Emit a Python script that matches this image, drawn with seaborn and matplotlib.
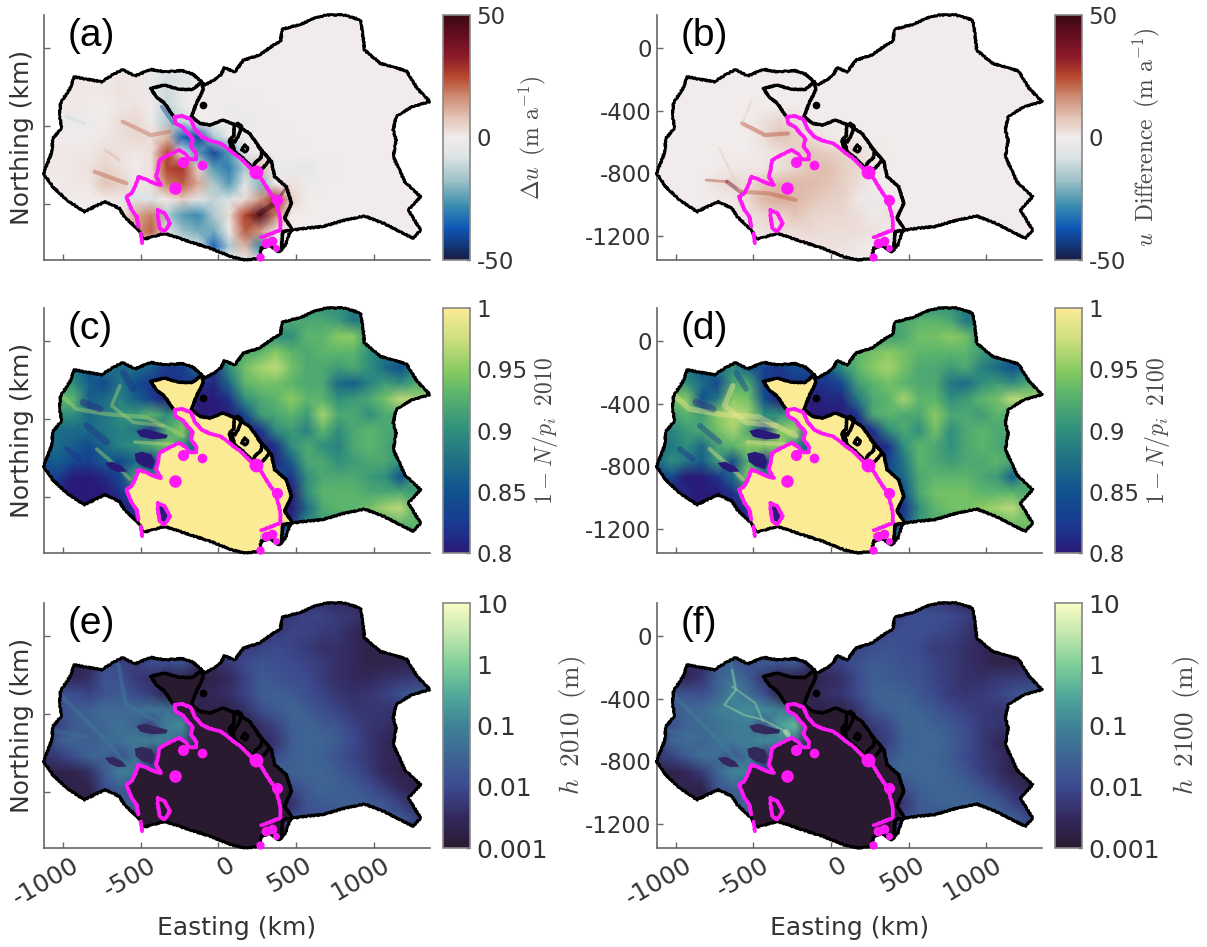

import numpy as np
import pandas as pd
import matplotlib
matplotlib.use("Agg")
import matplotlib.pyplot as plt
from matplotlib.colors import LinearSegmentedColormap, LogNorm, Normalize
from matplotlib.patches import Polygon
from matplotlib.transforms import ScaledTranslation
import seaborn as sns

sns.set_style("ticks")
plt.rcParams["font.family"] = ["DejaVu Sans"]
plt.rcParams["mathtext.fontset"] = "cm"

# grid nodes (km)
easting = [-1130, -1030, -930, -830, -730, -630, -530, -430, -330, -230, -130, -30, 70,
           170, 270, 370, 470, 570, 670, 770, 870, 970, 1070, 1170, 1270, 1370]
northing = [230, 130, 30, -70, -170, -270, -370, -470, -570, -670, -770, -870, -970,
            -1070, -1170, -1270, -1370]

# velocity change, panel a (m/a)
du_a = [
 [0]*26, [0]*26, [0]*26, [0]*26,
 [0,0,0,0,0,1,1,-3,-8,-8,-3,0,0,0,0,0,0,0,0,0,0,0,0,0,0,0],
 [0,0,1,1,1,2,1,-3,-10,-3,0,-1,0,0,0,0,0,0,0,0,0,0,0,0,0,0],
 [0,0,1,0,0,1,2,0,-12,-3,0,0,-2,-1,0,0,0,0,0,0,0,0,0,0,0,0],
 [0,0,-2,-2,0,3,4,-1,-15,-12,0,0,0,-3,-1,0,0,0,0,0,0,0,0,0,0,0],
 [0,0,-1,0,1,2,4,3,10,-35,-40,-15,-2,0,-1,-1,0,0,0,0,0,0,0,0,0,0],
 [0,1,1,1,3,2,1,2,25,-5,-25,-40,-25,-5,0,-1,-1,0,0,0,0,0,0,0,0,0],
 [0,1,1,2,5,2,0,2,25,28,5,-25,-30,-15,10,-2,-3,-4,-1,0,0,0,0,0,0,0],
 [0,0,1,1,8,6,-2,3,18,22,12,-15,-25,-5,-20,0,2,-2,0,0,0,0,0,0,0,0],
 [0,0,0,0,0,1,-8,-8,0,6,-5,-12,-8,3,15,30,5,0,0,0,0,0,0,0,0,0],
 [0,0,0,0,0,0,12,18,-15,-25,-28,-15,3,25,45,18,0,0,0,0,0,0,0,0,0,0],
 [0,0,0,0,0,0,15,22,-5,-18,-22,-22,0,22,15,-3,0,0,0,0,0,0,0,0,0,0],
 [0,0,0,0,0,0,5,5,0,-5,-8,-35,-15,10,-28,0,0,0,0,0,0,0,0,0,0,0],
 [0]*26,
]

# velocity difference, panel b (m/a)
du_b = [
 [0]*26, [0]*26, [0]*26, [0]*26, [0]*26, [0]*26, [0]*26,
 [0,0,0,0,0,0,0,2,5,3,0,0,0,0,0,0,0,0,0,0,0,0,0,0,0,0],
 [0,0,0,0,0,0,0,3,8,6,3,1,0,0,0,0,0,0,0,0,0,0,0,0,0,0],
 [0,0,0,0,0,0,0,1,2,5,8,6,5,3,1,0,0,0,0,0,0,0,0,0,0,0],
 [0,0,0,0,0,1,1,1,2,5,8,9,6,4,1,0,0,0,0,0,0,0,0,0,0,0],
 [0,0,0,0,2,4,3,8,10,10,9,8,6,3,0,0,0,0,0,0,0,0,0,0,0,0],
 [0,0,0,0,0,1,4,10,12,10,8,6,5,1,-3,1,0,0,0,0,0,0,0,0,0,0],
 [0,0,0,0,0,0,2,4,4,8,5,4,4,3,-1,2,0,0,0,0,0,0,0,0,0,0],
 [0,0,0,0,0,0,1,2,3,3,4,3,3,3,2,0,0,0,0,0,0,0,0,0,0,0],
 [0,0,0,0,0,0,0,0,1,1,1,2,2,1,0,0,0,0,0,0,0,0,0,0,0,0],
 [0]*26,
]

# 1 - N/p_i in 2010, panel c
np_2010 = [
 [.9,.9,.9,.9,.9,.9,.9,.9,.9,.9,.9,.9,.9,.9,.9,.9,.9,.9,.9,.9,.88,.88,.88,.88,.88,.88],
 [.9,.9,.9,.9,.9,.9,.9,.9,.9,.9,.9,.9,.9,.9,.9,.92,.92,.92,.92,.91,.88,.9,.9,.9,.9,.9],
 [.9,.9,.9,.9,.9,.9,.9,.9,.9,.9,.9,.9,.9,.9,.9,.9,.9,.93,.93,.95,.95,.9,.9,.9,.9,.9],
 [.9,.9,.9,.9,.9,.9,.9,.9,.9,.9,.9,.9,.9,.92,.93,.95,.93,.92,.93,.93,.93,.9,.88,.88,.88,.88],
 [.88,.88,.88,.85,.88,.87,.87,.86,.82,.83,.87,.82,.9,.94,.96,.97,.94,.92,.92,.91,.92,.9,.87,.85,.88,.88],
 [.92,.92,.9,.86,.84,.88,.85,.82,.82,.82,.82,.81,.87,.93,.94,.94,.93,.92,.92,.87,.86,.89,.91,.9,.92,.92],
 [.93,.93,.93,.86,.87,.89,.86,.83,.8,.8,.8,.8,.82,.9,.92,.93,.95,.93,.93,.9,.91,.92,.94,.97,.96,.97],
 [.9,.9,.9,.87,.88,.9,.91,.93,.9,.92,.8,.8,.8,.84,.91,.92,.93,.91,.96,.92,.92,.9,.92,.92,.92,.92],
 [.87,.87,.87,.87,.88,.89,.88,.82,.92,.95,.82,.8,.8,.8,.82,.9,.91,.89,.93,.9,.92,.93,.92,.92,.9,.9],
 [.87,.87,.86,.84,.87,.89,.9,.92,.94,.9,.85,.8,.8,.8,.8,.82,.9,.92,.9,.89,.92,.93,.92,.9,.9,.9],
 [.85,.86,.84,.83,.86,.84,.87,.82,.9,.9,.85,.8,.8,.8,.8,.81,.86,.92,.92,.9,.91,.92,.92,.9,.9,.9],
 [.83,.83,.8,.8,.81,.84,.92,.9,.9,.85,.85,.85,.85,.85,.85,.85,.82,.9,.92,.92,.92,.91,.9,.85,.92,.9],
 [.8,.8,.8,.8,.8,.82,.85,.9,.9,.9,.9,.9,.9,.9,.9,.8,.8,.9,.93,.93,.93,.92,.92,.92,.91,.9],
 [.8,.8,.8,.8,.8,.8,.82,.9,.9,.9,.9,.9,.9,.9,.9,.8,.8,.87,.92,.93,.93,.94,.96,.97,.92,.92],
 [.8,.8,.8,.8,.8,.8,.82,.9,.9,.9,.9,.9,.9,.9,.9,.82,.82,.9,.91,.91,.91,.92,.92,.93,.93,.93],
 [.9,.9,.9,.9,.9,.9,.9,.9,.9,.9,.9,.9,.9,.9,.9,.9,.9,.9,.9,.9,.9,.92,.92,.92,.92,.92],
 [.9,.9,.9,.9,.9,.9,.9,.9,.9,.9,.9,.9,.9,.9,.9,.9,.9,.9,.9,.9,.9,.9,.9,.9,.9,.9],
]

# 1 - N/p_i in 2100, panel d
np_2100 = [
 [.9,.9,.9,.9,.9,.9,.9,.9,.9,.9,.9,.9,.9,.9,.9,.9,.9,.9,.9,.9,.88,.88,.88,.88,.88,.88],
 [.9,.9,.9,.9,.9,.9,.9,.9,.9,.9,.9,.9,.9,.9,.9,.92,.92,.93,.93,.92,.88,.9,.9,.9,.9,.9],
 [.9,.9,.9,.9,.9,.9,.9,.9,.9,.9,.9,.9,.9,.9,.9,.91,.92,.94,.94,.95,.94,.9,.9,.9,.9,.9],
 [.9,.9,.9,.9,.9,.9,.9,.9,.9,.9,.9,.9,.9,.93,.94,.95,.94,.93,.93,.93,.93,.91,.89,.88,.88,.88],
 [.88,.88,.88,.85,.88,.9,.86,.83,.82,.85,.84,.84,.9,.93,.95,.96,.94,.92,.92,.91,.92,.89,.87,.85,.88,.88],
 [.92,.92,.9,.87,.84,.92,.92,.83,.82,.82,.82,.82,.84,.91,.93,.94,.93,.92,.92,.88,.87,.9,.91,.9,.92,.92],
 [.94,.94,.95,.85,.88,.95,.94,.85,.8,.8,.8,.81,.81,.88,.92,.93,.96,.93,.93,.9,.91,.93,.94,.97,.96,.97],
 [.91,.91,.93,.91,.95,.97,.96,.9,.9,.92,.8,.8,.8,.82,.92,.93,.92,.92,.95,.92,.92,.91,.93,.92,.92,.92],
 [.89,.89,.91,.92,.94,.96,.92,.82,.95,.96,.82,.8,.8,.8,.82,.9,.92,.9,.94,.9,.92,.93,.92,.92,.9,.9],
 [.88,.88,.9,.87,.92,.93,.95,.95,.95,.9,.85,.8,.8,.8,.8,.82,.9,.93,.92,.9,.92,.93,.92,.91,.9,.9],
 [.86,.9,.88,.86,.91,.84,.93,.82,.9,.9,.85,.8,.8,.8,.8,.83,.88,.93,.92,.91,.92,.92,.93,.92,.9,.9],
 [.84,.84,.8,.8,.82,.87,.95,.9,.9,.85,.85,.85,.85,.85,.85,.85,.87,.92,.93,.93,.93,.92,.91,.86,.93,.9],
 [.8,.8,.81,.8,.8,.82,.87,.9,.9,.9,.9,.9,.9,.9,.9,.82,.85,.92,.94,.94,.94,.93,.93,.93,.92,.9],
 [.8,.8,.8,.8,.8,.8,.82,.9,.9,.9,.9,.9,.9,.9,.9,.82,.82,.9,.93,.94,.94,.95,.96,.97,.93,.92],
 [.8,.8,.8,.8,.8,.8,.82,.9,.9,.9,.9,.9,.9,.9,.9,.84,.84,.91,.92,.92,.92,.93,.93,.94,.94,.93],
 [.9,.9,.9,.9,.9,.9,.9,.9,.9,.9,.9,.9,.9,.9,.9,.9,.9,.9,.9,.9,.9,.92,.92,.92,.92,.92],
 [.9,.9,.9,.9,.9,.9,.9,.9,.9,.9,.9,.9,.9,.9,.9,.9,.9,.9,.9,.9,.9,.9,.9,.9,.9,.9],
]

# h in 2010, panel e (m)
h_2010 = [
 [.003,.003,.003,.003,.003,.003,.003,.003,.003,.003,.003,.003,.003,.003,.003,.003,.004,.004,.004,.003,.003,.002,.002,.002,.002,.002],
 [.003,.003,.003,.003,.003,.003,.003,.003,.003,.003,.003,.003,.003,.003,.003,.004,.006,.008,.008,.006,.005,.003,.002,.002,.002,.002],
 [.003,.003,.003,.003,.003,.003,.003,.003,.003,.003,.003,.003,.003,.003,.004,.006,.008,.008,.006,.005,.003,.002,.002,.002,.002,.002],
 [.003,.003,.003,.003,.003,.003,.003,.003,.003,.003,.003,.003,.004,.006,.008,.01,.008,.006,.004,.004,.003,.002,.002,.002,.002,.002],
 [.002,.002,.002,.003,.012,.008,.006,.012,.01,.015,.003,.004,.006,.01,.015,.012,.01,.008,.006,.004,.003,.002,.002,.002,.002,.002],
 [.002,.002,.003,.004,.015,.012,.006,.004,.002,.002,.002,.002,.003,.008,.02,.015,.012,.01,.006,.004,.003,.003,.004,.005,.006,.006],
 [.012,.012,.012,.008,.015,.02,.01,.006,.002,.002,.002,.003,.004,.008,.02,.025,.02,.012,.008,.005,.004,.005,.007,.012,.02,.02],
 [.006,.012,.02,.025,.04,.035,.04,.06,.05,.02,.002,.002,.002,.004,.012,.02,.03,.02,.012,.008,.005,.005,.005,.004,.003,.003],
 [.003,.008,.02,.025,.035,.05,.03,.008,.09,.12,.002,.002,.002,.002,.004,.008,.025,.03,.02,.015,.008,.005,.004,.003,.003,.003],
 [.004,.02,.03,.02,.035,.05,.07,.09,.08,.03,.002,.002,.002,.002,.003,.005,.02,.03,.03,.02,.01,.005,.003,.002,.002,.002],
 [.004,.006,.012,.03,.03,.012,.05,.004,.01,.002,.002,.002,.002,.002,.002,.01,.025,.03,.025,.015,.008,.005,.003,.002,.002,.002],
 [.002,.002,.002,.004,.02,.09,.07,.01,.002,.002,.002,.002,.002,.002,.002,.03,.025,.03,.03,.02,.012,.006,.003,.002,.002,.002],
 [.002,.002,.002,.002,.012,.025,.008,.002,.002,.002,.002,.002,.002,.002,.002,.005,.01,.02,.03,.025,.02,.012,.006,.003,.002,.002],
 [.002,.002,.002,.002,.002,.015,.03,.002,.002,.002,.002,.002,.002,.002,.002,.002,.004,.015,.02,.025,.025,.02,.015,.007,.003,.003],
 [.002,.002,.002,.002,.002,.008,.008,.002,.002,.002,.002,.002,.002,.002,.002,.002,.01,.012,.012,.012,.015,.02,.02,.02,.008,.006],
 [.002,.002,.002,.002,.002,.002,.002,.002,.002,.002,.002,.002,.002,.002,.002,.002,.002,.002,.002,.002,.002,.002,.003,.003,.003,.003],
 [.002,.002,.002,.002,.002,.002,.002,.002,.002,.002,.002,.002,.002,.002,.002,.002,.002,.002,.002,.002,.002,.002,.002,.002,.002,.002],
]

# h in 2100, panel f (m)
h_2100 = [
 [.004,.004,.004,.004,.004,.004,.004,.004,.004,.004,.004,.004,.004,.004,.004,.004,.006,.006,.006,.004,.003,.002,.002,.002,.002,.002],
 [.004,.004,.004,.004,.004,.004,.004,.004,.004,.004,.004,.004,.004,.004,.004,.006,.01,.012,.012,.01,.007,.004,.002,.002,.002,.002],
 [.004,.004,.004,.004,.004,.004,.004,.004,.004,.004,.004,.004,.004,.004,.006,.01,.012,.012,.01,.008,.005,.003,.002,.002,.002,.002],
 [.004,.004,.004,.004,.004,.004,.004,.004,.004,.004,.004,.004,.005,.008,.012,.015,.012,.01,.006,.006,.004,.003,.002,.002,.002,.002],
 [.002,.002,.003,.004,.02,.02,.012,.02,.015,.02,.004,.006,.008,.014,.02,.018,.014,.012,.008,.006,.004,.003,.002,.002,.002,.002],
 [.002,.002,.003,.005,.025,.06,.02,.005,.002,.002,.002,.003,.004,.01,.025,.02,.016,.014,.008,.006,.004,.004,.005,.006,.006,.006],
 [.015,.015,.015,.012,.03,.1,.04,.012,.002,.002,.002,.004,.005,.01,.025,.03,.025,.016,.01,.006,.005,.006,.008,.014,.02,.02],
 [.008,.02,.03,.04,.08,.1,.15,.12,.08,.03,.002,.002,.002,.005,.016,.025,.035,.025,.016,.01,.007,.006,.005,.005,.003,.003],
 [.004,.012,.03,.04,.05,.07,.07,.015,.25,.5,.002,.002,.002,.003,.006,.01,.03,.035,.025,.018,.01,.006,.005,.004,.003,.003],
 [.005,.03,.04,.03,.05,.07,.09,.12,.1,.04,.002,.002,.002,.002,.004,.008,.025,.035,.035,.025,.012,.006,.003,.003,.002,.002],
 [.005,.008,.02,.05,.04,.015,.06,.005,.012,.002,.002,.002,.002,.002,.003,.014,.03,.035,.03,.02,.01,.006,.004,.002,.002,.002],
 [.002,.002,.003,.006,.03,.11,.09,.012,.002,.002,.002,.002,.002,.002,.003,.04,.03,.035,.035,.025,.015,.007,.004,.002,.002,.002],
 [.002,.002,.002,.002,.015,.03,.01,.002,.002,.002,.002,.002,.002,.002,.002,.006,.012,.025,.035,.03,.025,.015,.007,.004,.002,.002],
 [.002,.002,.002,.002,.002,.02,.04,.002,.002,.002,.002,.002,.002,.002,.002,.002,.005,.02,.025,.03,.03,.025,.02,.008,.004,.003],
 [.002,.002,.002,.002,.002,.012,.012,.002,.002,.002,.002,.002,.002,.002,.002,.002,.012,.015,.015,.015,.018,.025,.025,.025,.01,.006],
 [.002,.002,.002,.002,.002,.002,.002,.002,.002,.002,.002,.002,.002,.002,.002,.002,.002,.002,.002,.002,.002,.002,.003,.003,.003,.003],
 [.002,.002,.002,.002,.002,.002,.002,.002,.002,.002,.002,.002,.002,.002,.002,.002,.002,.002,.002,.002,.002,.002,.002,.002,.002,.002],
]

# outlines (km)
basin = [(-1124,-801),(-1070,-662),(-1065,-577),(-1009,-513),(-1020,-427),(-1016,-353),(-953,-256),
         (-926,-182),(-840,-199),(-750,-214),(-682,-171),(-615,-135),(-536,-177),(-435,-135),(-345,-150),
         (-232,-143),(-164,-165),(-108,-214),(-86,-235),(-29,-203),(16,-171),(38,-124),(106,-150),(162,-75),
         (263,-43),(354,21),(399,43),(410,122),(534,156),(613,192),(691,214),(804,214),(912,182),(928,96),
         (939,-11),(1040,-96),(1209,-145),(1277,-256),(1360,-342),(1243,-374),(1142,-438),(1124,-524),
         (1142,-588),(1124,-695),(1164,-780),(1198,-855),(1299,-951),(1221,-1036),(1299,-1165),(1254,-1218),
         (1164,-1175),(1063,-1122),(939,-1075),(815,-1100),(669,-1143),(556,-1154),(477,-1165),(455,-1186),
         (432,-1261),(387,-1304),(331,-1261),(275,-1282),(263,-1346),(173,-1357),(83,-1336),(-52,-1282),
         (-187,-1239),(-345,-1186),(-480,-1224),(-513,-1165),(-604,-1079),(-637,-1026),(-727,-983),
         (-863,-1047),(-975,-972),(-1065,-887)]
wedge_edge = [(-288,-438),(-345,-353),(-401,-310),(-435,-256),(-345,-235),(-254,-263),(-164,-263),(-108,-214)]
coast_east = [(-98,-267),(-141,-352),(-173,-438),(-119,-480),(-55,-492),(28,-460),(116,-492),(201,-545),
              (267,-640),(341,-727),(362,-823),(437,-887),(469,-993),(426,-1088),(477,-1165),(413,-1175),
              (405,-1293),(387,-1304),(331,-1261),(275,-1282)]
inlet_a = [(126,-481),(151,-500),(130,-560),(105,-600),(84,-588),(105,-663),(157,-703),(215,-760)]
inlet_b = [(126,-481),(100,-500),(100,-560),(70,-590),(84,-640)]
inlet_c = [(169,-620),(190,-640),(175,-665),(150,-650),(169,-620)]
inlet_d = [(255,-625),(280,-660),(275,-700),(235,-735),(225,-760)]
inlet_e = [(330,-716),(286,-767),(253,-794)]
gl_main = [(-281,-438),(-232,-434),(-176,-455),(-153,-513),(-108,-566),(-52,-592),(16,-609),(83,-662),
           (151,-712),(218,-780),(275,-833),(320,-908),(365,-972),(381,-1026),(399,-1100),(399,-1165),
           (342,-1186),(275,-1212)]
gl_west = [(-281,-438),(-277,-481),(-232,-502),(-198,-545),(-164,-577),(-176,-630),(-142,-673),(-142,-712),
           (-187,-712),(-209,-677),(-254,-652),(-300,-673),(-378,-716),(-390,-780),(-401,-823),(-367,-876),
           (-412,-865),(-457,-844),(-513,-823),(-536,-887),(-558,-930),(-592,-951),(-558,-1036),(-525,-1079),
           (-513,-1143)]
gl_stub = [(-498,-1186),(-491,-1250)]
gl_loop = [(-390,-1036),(-345,-1058),(-311,-1122),(-345,-1175),(-378,-1154),(-390,-1079),(-390,-1036)]
gl_blobs = [(-227,-731,7),(-108,-748,6),(-281,-893,8),(241,-791,9),(304,-1250,6),(342,-1233,6),(372,-1282,4),
            (268,-1340,5),(376,-972,7)]
shelf_south = [(263,-1346),(173,-1357),(83,-1336),(-52,-1282),(-187,-1239),(-345,-1186),(-480,-1224),(-498,-1186)]
lake_a = [(-527,-575),(-470,-560),(-400,-580),(-325,-600),(-335,-622),(-420,-628),(-500,-612)]
lake_b = [(-539,-720),(-490,-708),(-430,-725),(-410,-770),(-425,-820),(-490,-800),(-530,-770)]
lake_c = [(-730,-780),(-680,-772),(-620,-800),(-590,-835),(-650,-838),(-700,-815)]

# ridges narrower than the grid: (value, width, points)
ridge_1 = [(-1007,-349),(-911,-434),(-718,-466),(-461,-487),(-226,-605)]
ridge_2 = [(-633,-285),(-686,-413),(-547,-519),(-355,-541)]
ridge_3 = [(-782,-690),(-633,-819),(-569,-883)]
ridge_4 = [(-536,-646),(-292,-659)]
trough_1 = [(-870,-390),(-760,-434)]
trough_2 = [(-845,-541),(-718,-646)]
trough_3 = [(-975,-690),(-890,-755)]
trough_4 = [(-612,-200),(-547,-305)]
melt_1 = [(-645,-175),(-596,-432),(-300,-603)]
melt_2 = [(-1002,-389),(-744,-646),(-571,-838)]
melt_3 = [(-1064,-603),(-842,-646)]
melt_4 = [(-637,-214),(-612,-342),(-687,-438),(-562,-503),(-438,-535),(-313,-599),(-276,-631)]
melt_5 = [(-637,-321),(-488,-428),(-438,-545)]

streaks_a = [(20,3,[(-615,-470),(-435,-556),(-311,-534)]),(22,3,[(-795,-791),(-592,-865)]),
             (-10,3,[(-975,-438),(-863,-481)]),(-40,3,[(-363,-374),(-288,-481)]),
             (10,2,[(-727,-652),(-637,-716)]),(50,4,[(263,-1058),(365,-994)]),(50,2,[(365,-994),(432,-898)])]
streaks_b = [(24,3,[(-571,-481),(-424,-556),(-277,-545)]),(7,1.5,[(-510,-330),(-571,-481)]),
             (24,2,[(-804,-844),(-669,-855)]),(40,3,[(-669,-855),(-583,-919)]),(22,3,[(-583,-919),(-399,-930),(-228,-972)]),
             (7,1.5,[(-720,-640),(-583,-919)])]
streaks_c = [(.96,3,ridge_1),(.96,2.5,ridge_2),(.96,2.5,ridge_3),(.97,2.5,ridge_4),
             (.81,5,trough_1),(.82,5,trough_2),(.82,4,trough_3),(.82,5,trough_4)]
streaks_d = [(.99,4,ridge_1),(.99,4,ridge_2),(.98,3,ridge_3),(.99,3,ridge_4),
             (.81,5,trough_1),(.83,4,trough_2),(.82,4,trough_3),(.83,4,trough_4)]
streaks_e = [(.08,3,melt_1),(.07,3,melt_2),(.05,3,melt_3)]
streaks_f = [(.1,3,melt_1),(.09,3,melt_2),(.06,3,melt_3),(2,1.5,melt_4),(1.5,1.5,melt_5),(6,4,[(-290,-610),(-276,-631)])]

# colormaps
balance_colors = [(0,"#181c43"),(.13,"#0e58b8"),(.22,"#3a8cae"),(.32,"#9bc0c6"),(.42,"#dce3e4"),(.5,"#f1ecec"),
                  (.58,"#e3c4b6"),(.67,"#cc8a70"),(.75,"#b5472c"),(.83,"#8d1a2a"),(.93,"#5e0c1e"),(1,"#3c0912")]
haline_colors = [(0,"#2a1a78"),(.12,"#1a3a90"),(.25,"#10528f"),(.5,"#2f8e7d"),(.65,"#5cb56c"),(.75,"#8acb62"),
                 (.88,"#d0df80"),(1,"#fbeb95")]
deep_colors = [(0,"#2a1a30"),(.12,"#33285c"),(.25,"#3c4a8f"),(.5,"#3f8296"),(.62,"#4fa89a"),(.75,"#7fcf98"),
               (.88,"#c5e8ae"),(1,"#f8fbc4")]
balance = LinearSegmentedColormap.from_list("balance", balance_colors)
haline = LinearSegmentedColormap.from_list("haline", haline_colors)
deep = LinearSegmentedColormap.from_list("deep", deep_colors)

# panel layout in pixels: left, right, top, bottom
W, H = 1207, 947
LEFT_X = (43.5, 430)
RIGHT_X = (656.5, 1042)
ROWS = [(15, 260), (308, 553), (603, 848)]
XLIM = (-1124, 1360)
YLIM = (-1357, 214)
X0, DX = easting[0], 100
Y0, DY = northing[0], 100


def ix(x):
    return (np.asarray(x, dtype=float) - X0) / DX


def iy(y):
    return (Y0 - np.asarray(y, dtype=float)) / DY


def draw_line(ax, pts, rough=None, **kw):
    p = np.array(pts)
    arts = ax.plot(ix(p[:, 0]), iy(p[:, 1]), **kw)
    if rough:
        arts[0].set_sketch_params(scale=rough, length=3, randomness=2)
    return arts


fig = plt.figure(figsize=(W / 100, H / 100), dpi=100)

panels = [
    ("(a)", du_a, balance, Normalize(-50, 50), [-50, 0, 50], ["-50", "0", "50"], 0, 0,
     r"$\Delta u\;\;(\mathrm{m\ a}^{-1})$", 532, 17, 16.5, streaks_a, None, None),
    ("(b)", du_b, balance, Normalize(-50, 50), [-50, 0, 50], ["-50", "0", "50"], 0, 1,
     r"$u\;\;\mathrm{Difference}\;\;(\mathrm{m\ a}^{-1})$", 1146, 17, 16.5, streaks_b, None, None),
    ("(c)", np_2010, haline, Normalize(.8, 1), [.8, .85, .9, .95, 1], ["0.8", "0.85", "0.9", "0.95", "1"], 1, 0,
     r"$1-N/p_i\;\;2010$", 545, 17, 16.5, streaks_c, 1.0, .8),
    ("(d)", np_2100, haline, Normalize(.8, 1), [.8, .85, .9, .95, 1], ["0.8", "0.85", "0.9", "0.95", "1"], 1, 1,
     r"$1-N/p_i\;\;2100$", 1157, 17, 16.5, streaks_d, 1.0, .8),
    ("(e)", h_2010, deep, LogNorm(.001, 10), [.001, .01, .1, 1, 10], ["0.001", "0.01", "0.1", "1", "10"], 2, 0,
     r"$h\;\;2010\;\;(\mathrm{m})$", 573, 19.5, 18, streaks_e, .001, .003),
    ("(f)", h_2100, deep, LogNorm(.001, 10), [.001, .01, .1, 1, 10], ["0.001", "0.01", "0.1", "1", "10"], 2, 1,
     r"$h\;\;2100\;\;(\mathrm{m})$", 1187, 19.5, 18, streaks_f, .001, .003),
]

for tag, grid, cmap, norm, cticks, clabels, r, c, clabel, clabel_x, clabel_size, ctick_size, streaks, shelf_val, lake_val in panels:
    xa, xb = RIGHT_X if c else LEFT_X
    top, bottom = ROWS[r]
    ax = fig.add_axes([xa / W, 1 - bottom / H, (xb - xa) / W, (bottom - top) / H])
    cax = fig.add_axes([(xb + 13) / W, 1 - bottom / H, 26.5 / W, (bottom - top) / H])

    frame = pd.DataFrame(grid, index=northing, columns=easting).astype(float)
    sns.heatmap(frame, ax=ax, cbar_ax=cax, cmap=cmap, norm=norm, shading="gouraud",
                xticklabels=False, yticklabels=False, cbar_kws={"ticks": cticks})
    mesh = ax.collections[0]

    # everything stays inside the basin outline
    clip = Polygon(np.column_stack([ix([p[0] for p in basin]), iy([p[1] for p in basin])]),
                   closed=True, transform=ax.transData)
    mesh.set_clip_path(clip)

    for val, width, pts in streaks:
        for art in draw_line(ax, pts, color=cmap(norm(val)), lw=width, alpha=.45,
                             solid_capstyle="round", zorder=2.5):
            art.set_clip_path(clip)

    # floating ice and lakes have sharp edges, so they are filled on top of the grid
    if shelf_val is not None:
        main = gl_main + shelf_south + gl_west[::-1]
        upper = wedge_edge + coast_east + gl_main[::-1]
        shelf_color = cmap(norm(shelf_val))
        for poly in (main, upper):
            p = np.array(poly)
            for art in ax.fill(ix(p[:, 0]), iy(p[:, 1]), color=shelf_color, lw=0, zorder=3):
                art.set_clip_path(clip)
        for poly in (lake_a, lake_b, lake_c, gl_loop):
            p = np.array(poly)
            col = cmap(norm(lake_val))
            if poly is gl_loop and lake_val < .5:
                col = cmap(norm(.001))
            for art in ax.fill(ix(p[:, 0]), iy(p[:, 1]), color=col, lw=0, zorder=3):
                art.set_clip_path(clip)

    # basin, coast and grounding lines
    draw_line(ax, basin + basin[:1], rough=.7, color="black", lw=2.0, zorder=5, clip_on=False)
    for line in (wedge_edge, coast_east, inlet_a, inlet_b, inlet_c, inlet_d, inlet_e):
        draw_line(ax, line, rough=.4, color="black", lw=2.4, zorder=5)
    draw_line(ax, [(-108, -214), (-98, -267)], rough=.4, color="black", lw=2.4, zorder=5)
    ax.plot(ix(-97), iy(-360), "o", color="black", ms=4.5, zorder=5)
    for line in (gl_main, gl_west, gl_stub, gl_loop):
        draw_line(ax, line, rough=.4, color="#ff19f5", lw=2.6, zorder=6, solid_capstyle="round")
    for bx, by, size in gl_blobs:
        ax.plot(ix(bx), iy(by), "o", color="#ff19f5", ms=size, zorder=6, clip_on=False)

    ax.set_xlim(ix(XLIM[0]), ix(XLIM[1]))
    ax.set_ylim(iy(YLIM[0]), iy(YLIM[1]))

    # axes style: only left and bottom lines, short inward ticks
    for side in ("left", "bottom"):
        ax.spines[side].set_visible(True)
        ax.spines[side].set_color("#666666")
        ax.spines[side].set_linewidth(1.2)
    ax.set_xticks(ix([-1000, -500, 0, 500, 1000]))
    ax.set_yticks(iy([-1200, -800, -400, 0]) if c else iy([-1000, -500, 0]))
    ax.tick_params(direction="in", length=4, width=1, color="#666666", labelsize=16.5, labelcolor="#333333",
                   left=True, bottom=True)
    ax.set_xticklabels([])
    ax.set_yticklabels(["-1200", "-800", "-400", "0"] if c else [], rotation=0)

    if r == 2:
        ax.set_xticklabels(["-1000", "-500", "0", "500", "1000"], rotation=30, ha="right",
                           rotation_mode="anchor", fontsize=18)
        for lab in ax.get_xticklabels():
            lab.set_transform(lab.get_transform() + ScaledTranslation(.08, 0, fig.dpi_scale_trans))
        fig.text((xa + xb) / 2 / W, 1 - 928 / H, "Easting (km)", ha="center", va="center",
                 fontsize=18, color="#333333")
    if c == 0:
        fig.text(22 / W, 1 - (top + bottom) / 2 / H, "Northing (km)", rotation=90, ha="center",
                 va="center", fontsize=18, color="#333333")

    fig.text((xa + 24.5) / W, 1 - (top + 21) / H, tag, ha="left", va="center", fontsize=28,
             family="Liberation Sans", color="black", zorder=10)

    # colorbar
    cb = mesh.colorbar
    cb.outline.set_linewidth(1.2)
    cb.outline.set_edgecolor("#888888")
    cb.set_ticks(cticks)
    cb.set_ticklabels(clabels)
    cb.ax.minorticks_off()
    cb.ax.tick_params(direction="in", length=3, width=1, color="#555555", labelsize=ctick_size,
                      labelcolor="#333333", pad=5)
    fig.text(clabel_x / W, 1 - (top + bottom) / 2 / H, clabel, rotation=90, ha="center", va="center",
             fontsize=clabel_size, color="#4a4a4a")

fig.savefig("out.png", dpi=100)
